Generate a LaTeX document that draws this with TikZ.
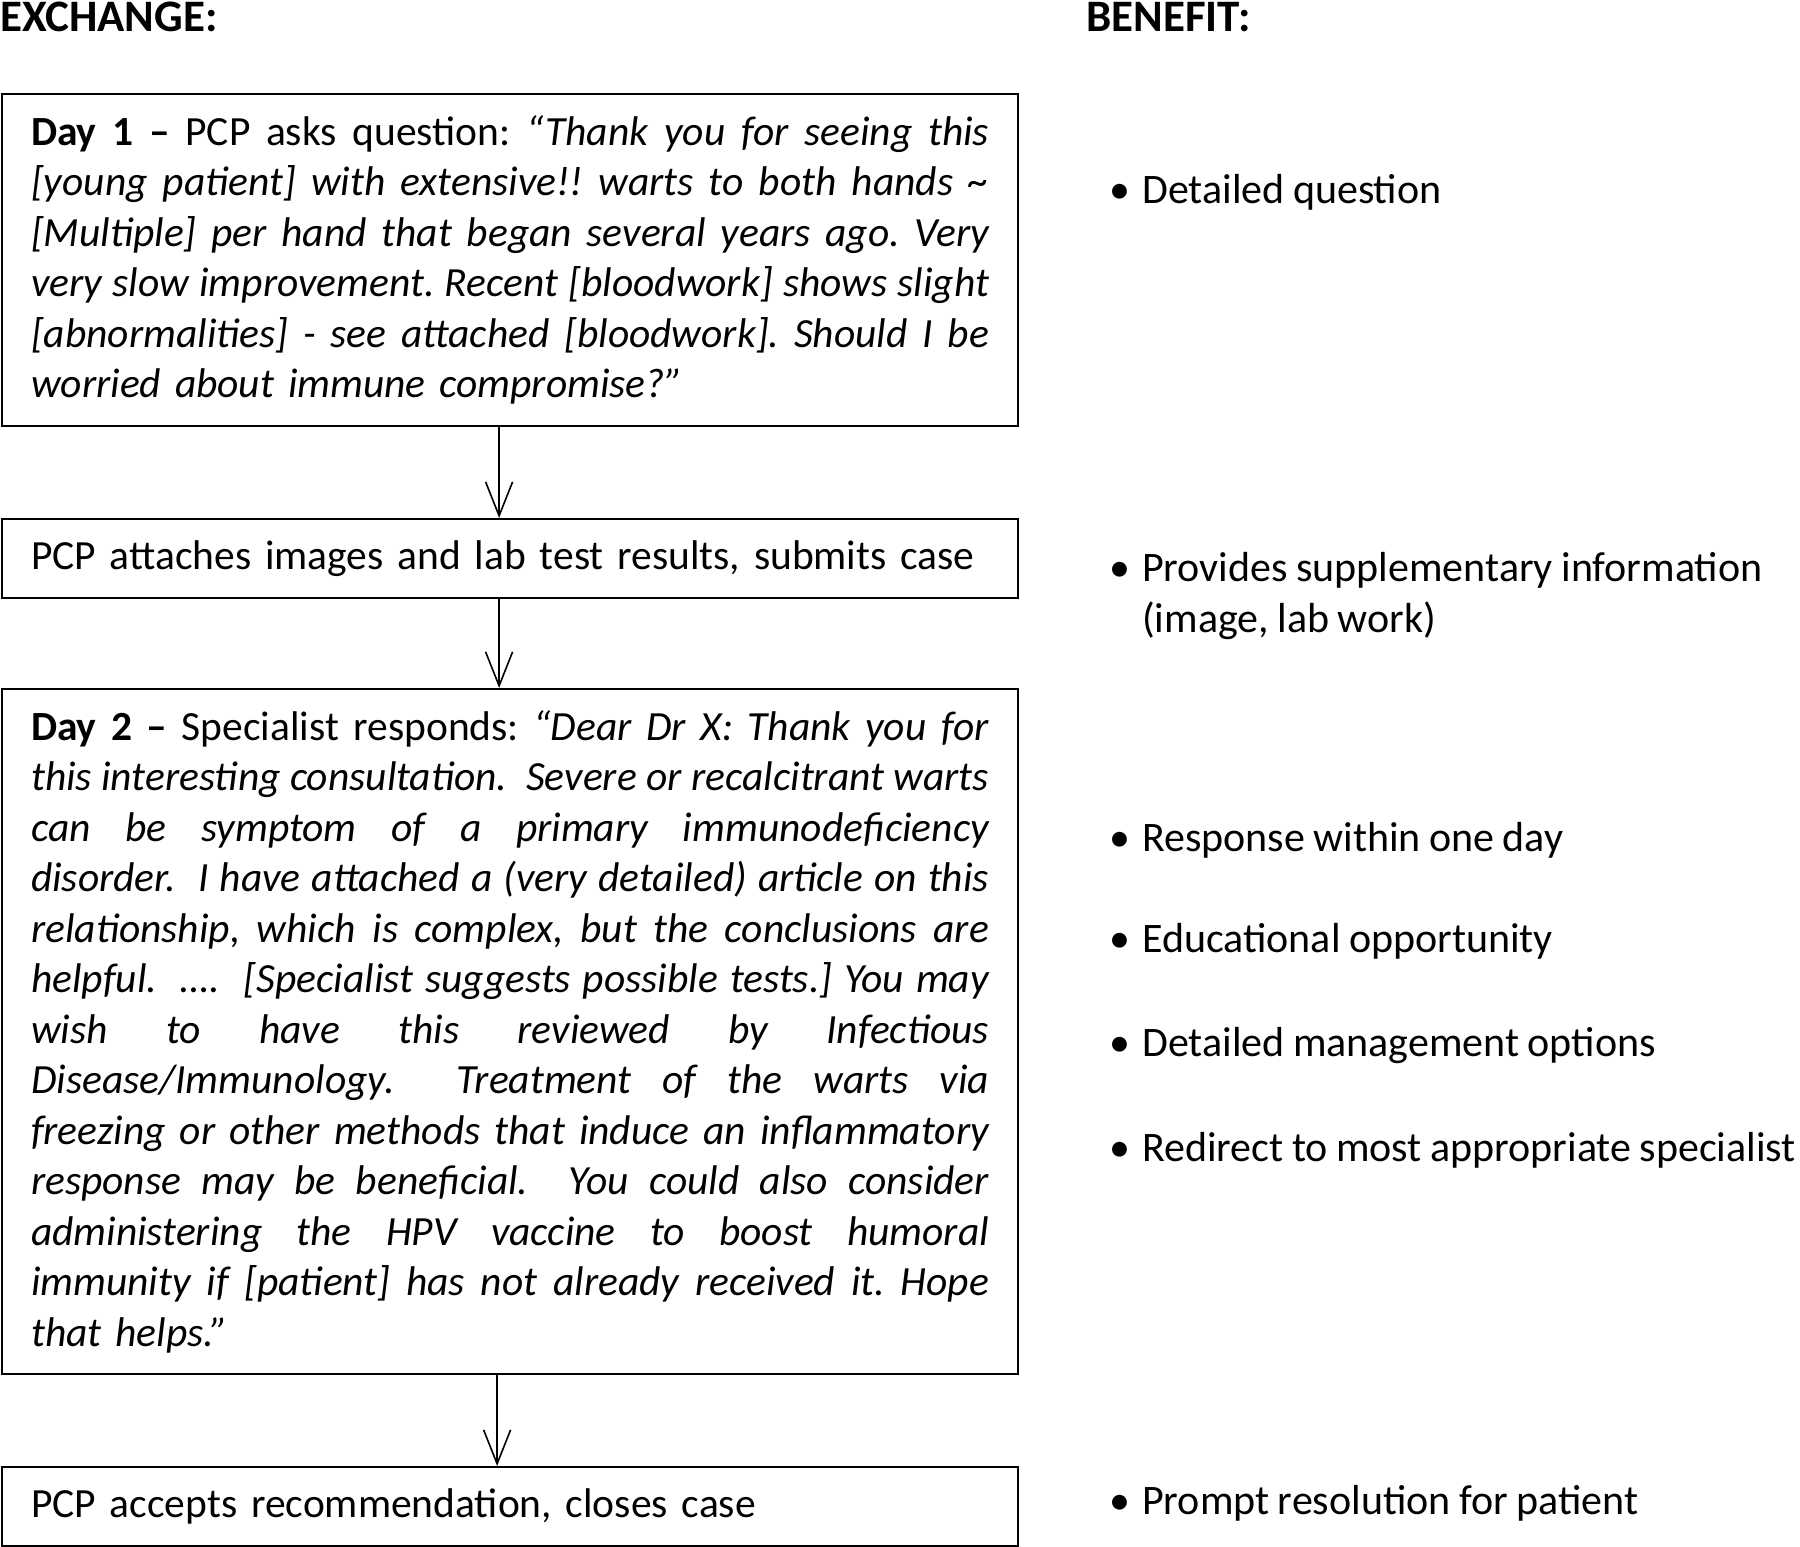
\documentclass[tikz,border=0pt]{standalone}
\usepackage{fontspec}
\setmainfont{Carlito}
\usetikzlibrary{arrows.meta}
\newcommand\jl[1]{\leavevmode\hbox to 958pt{\spaceskip=0.2em plus 10em minus 0.09em\relax #1}}
\newcommand\bodyfont{\fontsize{41.5}{50.5}\selectfont\frenchspacing\spaceskip=0.2em plus 0.1em minus 0.05em\relax}
\newcommand\itemfont{\fontsize{42}{51.5}\selectfont\frenchspacing\spaceskip=0.2em plus 0.1em minus 0.05em\relax}
\begin{document}
\begin{tikzpicture}[x=1pt,y=-1pt,
  box/.style={draw=black, line width=2.2pt, inner xsep=29pt, inner ysep=0pt,
    text width=958pt, align=left, anchor=north west, font=\bodyfont},
  arr/.style={line width=1.6pt, -{Straight Barb[length=34pt,width=27pt,line width=1.6pt]}},
  title/.style={font=\fontsize{45}{54}\selectfont\bfseries, anchor=base west, inner sep=0pt},
  item/.style={font=\itemfont, anchor=base west, inner sep=0pt},
]
\useasboundingbox (0,0) rectangle (1800,1547);

\node[title] (t1) at (0,31) {EXCHANGE:};
\node[title] (t2) at (1086,31) {BENEFIT:};

\node[box, minimum height=332pt] (b1) at (1,93) {%
\jl{\textbf{Day 1 –} PCP asks question: \textit{“Thank you for seeing this}}\\
\jl{\itshape [young patient] with extensive!! warts to both hands \textasciitilde}\\
\jl{\itshape [Multiple] per hand that began several years ago. Very}\\
\jl{\itshape very slow improvement. Recent [bloodwork] shows slight}\\
\jl{\itshape [abnormalities] - see attached [bloodwork]. Should I be}\\
\textit{worried about immune compromise?”}};

\node[box, minimum height=79pt] (b2) at (1,518) {PCP attaches images and lab test results, submits case};

\node[box, minimum height=685pt] (b3) at (1,688) {%
\jl{\textbf{Day 2 –} Specialist responds: \textit{“Dear Dr X: Thank you for}}\\
\jl{\itshape this interesting consultation.\ \ Severe or recalcitrant warts}\\
\jl{\itshape can be symptom of a primary immunodeficiency}\\
\jl{\itshape disorder.\ \ I have attached a (very detailed) article on this}\\
\jl{\itshape relationship, which is complex, but the conclusions are}\\
\jl{\itshape helpful.\ \ ….\ \ [Specialist suggests possible tests.] You may}\\
\jl{\itshape wish to have this reviewed by Infectious}\\
\jl{\itshape Disease/Immunology.\ \ Treatment of the warts via}\\
\jl{\itshape freezing or other methods that induce an inflammatory}\\
\jl{\itshape response may be beneficial.\ \ You could also consider}\\
\jl{\itshape administering the HPV vaccine to boost humoral}\\
\jl{\itshape immunity if [patient] has not already received it. Hope}\\
\textit{that helps.”}};

\node[box, minimum height=79pt] (b4) at (1,1466) {PCP accepts recommendation, closes case};

\draw[arr] ([xshift=-11pt]b1.south) -- ([xshift=-11pt]b2.north);
\draw[arr] ([xshift=-11pt]b2.south) -- ([xshift=-11pt]b3.north);
\draw[arr] ([xshift=-13pt]b3.south) -- ([xshift=-13pt]b4.north);

\node[item] (i1) at (1142,203) {\llap{•\hspace{12pt}}Detailed question};
\node[item] (i2) at (1142,581) {\parbox[t]{650pt}{\itemfont\leavevmode\llap{•\hspace{12pt}}Provides supplementary information\\(image, lab work)}};
\node[item] (i3) at (1142,851) {\llap{•\hspace{12pt}}Response within one day};
\node[item] (i4) at (1142,952) {\llap{•\hspace{12pt}}Educational opportunity};
\node[item] (i5) at (1142,1056) {\llap{•\hspace{12pt}}Detailed management options};
\node[item] (i6) at (1142,1161) {\llap{•\hspace{12pt}}Redirect to most appropriate specialist};
\node[item] (i7) at (1142,1514) {\llap{•\hspace{12pt}}Prompt resolution for patient};
\end{tikzpicture}
\end{document}
